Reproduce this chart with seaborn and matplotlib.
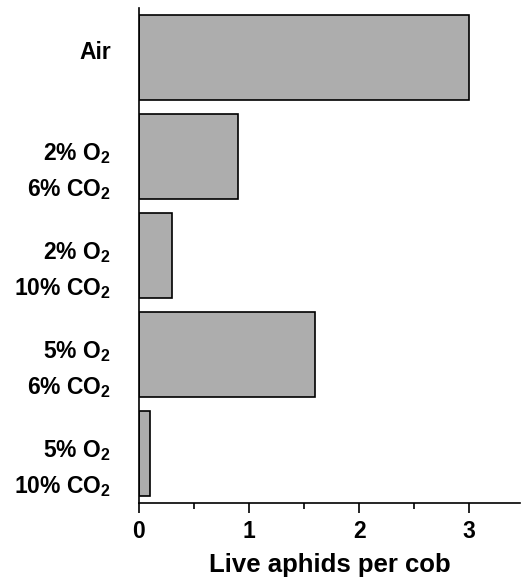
import matplotlib
matplotlib.use("Agg")
import matplotlib.pyplot as plt
from matplotlib.ticker import MultipleLocator
import matplotlib.transforms as mtransforms
import seaborn as sns
import pandas as pd

categories = ["Air", "2% O$_2$\n6% CO$_2$", "2% O$_2$\n10% CO$_2$",
              "5% O$_2$\n6% CO$_2$", "5% O$_2$\n10% CO$_2$"]
values = [3.0, 0.9, 0.3, 1.6, 0.1]
xticks = [0, 1, 2, 3]
xlabel = "Live aphids per cob"

sns.set_theme(style="ticks")
plt.rcParams["font.family"] = ["Liberation Sans", "DejaVu Sans"]
plt.rcParams["font.weight"] = "bold"
plt.rcParams["mathtext.fontset"] = "custom"
plt.rcParams["mathtext.bf"] = "Liberation Sans:bold"
plt.rcParams["mathtext.rm"] = "Liberation Sans:bold"
plt.rcParams["mathtext.default"] = "bf"
for k in ["text.color", "axes.labelcolor", "xtick.color", "ytick.color",
          "xtick.labelcolor", "ytick.labelcolor", "axes.edgecolor"]:
    plt.rcParams[k] = "black"

df = pd.DataFrame({"cat": categories, "val": values})

fig = plt.figure(figsize=(5.22, 5.83), dpi=100)
ax = fig.add_axes([0.266, 0.137, 0.73, 0.849])
sns.barplot(data=df, y="cat", x="val", orient="h", ax=ax, width=0.86,
            color="#adadad", edgecolor="black", linewidth=1.2, saturation=1)

ax.set_xlim(0, 3.46)
ax.set_ylim(4.5, -0.5)
ax.set_xticks(xticks)
ax.set_xticklabels([str(t) for t in xticks], fontsize=16.5, fontweight="bold")
ax.xaxis.set_minor_locator(MultipleLocator(0.5))
ax.tick_params(axis="x", which="major", length=7, width=1.2, direction="out", pad=5, color="black")
ax.tick_params(axis="x", which="minor", length=4, width=1.2, direction="out", color="black")
ax.tick_params(axis="y", length=0, pad=20)
for i, lab in enumerate(ax.get_yticklabels()):
    lab.set_fontsize(16.5)
    lab.set_fontweight("bold")
    lab.set_color("black")
    lab.set_linespacing(1.56)
    lab.set_horizontalalignment("right")
    dy_px = 8 if i == 0 else -6.5
    lab.set_transform(lab.get_transform() +
                      mtransforms.ScaledTranslation(0, dy_px / 100, fig.dpi_scale_trans))
ax.set_ylabel("")
ax.set_xlabel(xlabel, fontsize=18.5, fontweight="bold", labelpad=7, color="black")
for s in ["top", "right"]:
    ax.spines[s].set_visible(False)
for s in ["left", "bottom"]:
    ax.spines[s].set_linewidth(1.2)
    ax.spines[s].set_color("black")

fig.savefig("out.png", dpi=100)
